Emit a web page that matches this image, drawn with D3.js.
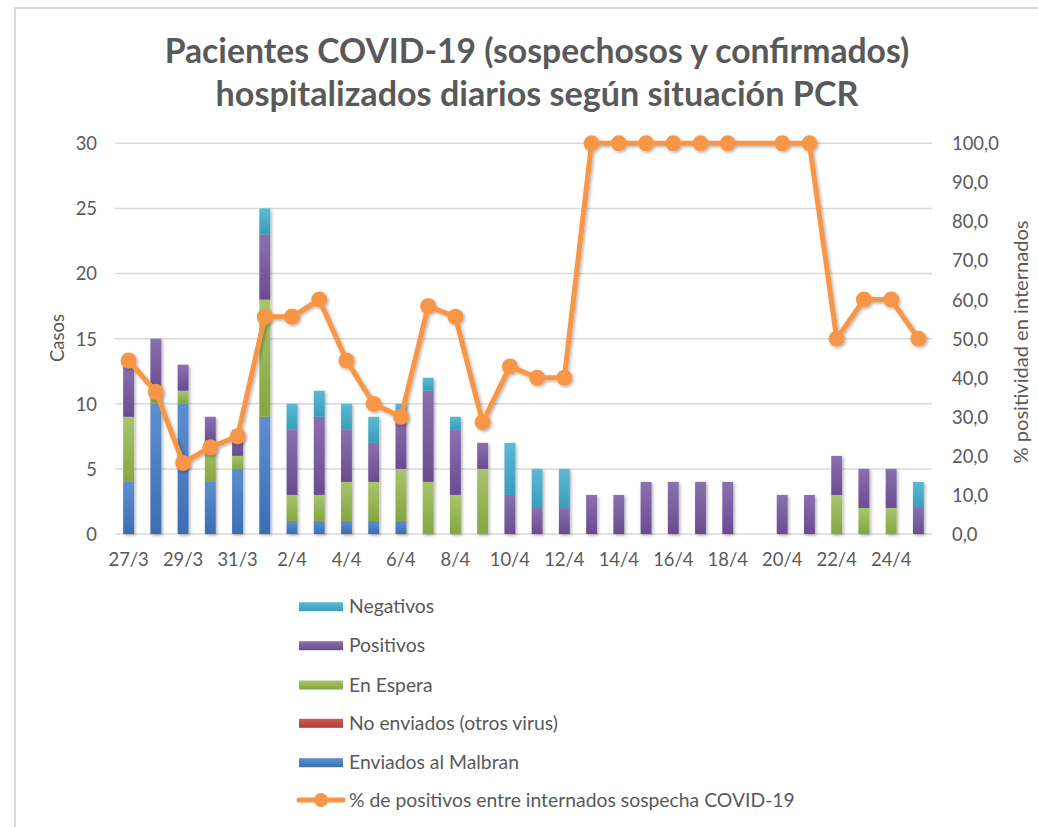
<!DOCTYPE html>
<html><head><meta charset="utf-8">
<script src="https://cdn.jsdelivr.net/npm/d3@7"></script>
<style>
html,body{margin:0;padding:0;background:#fff;}
svg{display:block;}
text{font-family:Lato,"Open Sans",sans-serif;fill:#595959;}
</style></head>
<body>
<svg id="chart" width="1038" height="827"></svg>
<script>
const categories = ["27/3","28/3","29/3","30/3","31/3","1/4","2/4","3/4","4/4","5/4","6/4","7/4","8/4","9/4","10/4","11/4","12/4","13/4","14/4","15/4","16/4","17/4","18/4","19/4","20/4","21/4","22/4","23/4","24/4","25/4"];
const enviadosMalbran = [4,10,10,4,5,9,1,1,1,1,1,0,0,0,0,0,0,0,0,0,0,0,0,0,0,0,0,0,0,0];
const noEnviados      = [0,0,0,0,0,0,0,0,0,0,0,0,0,0,0,0,0,0,0,0,0,0,0,0,0,0,0,0,0,0];
const enEspera        = [5,1,1,3,1,9,2,2,3,3,4,4,3,5,0,0,0,0,0,0,0,0,0,0,0,0,3,2,2,0];
const positivos       = [4,4,2,2,2,5,5,6,4,3,4,7,5,2,3,2,2,3,3,4,4,4,4,0,3,3,3,3,3,2];
const negativos       = [0,0,0,0,0,2,2,2,2,2,1,1,1,0,4,3,3,0,0,0,0,0,0,0,0,0,0,0,0,2];
const pctPositivos    = [44.4,36.4,18.2,22.2,25.0,55.6,55.6,60.0,44.4,33.3,30.0,58.3,55.6,28.6,42.9,40.0,40.0,100,100,100,100,100,100,null,100,100,50,60,60,50];
const leftTicks  = [0,5,10,15,20,25,30];
const rightTicks = [0,10,20,30,40,50,60,70,80,90,100];
const xTickLabels = ["27/3","29/3","31/3","2/4","4/4","6/4","8/4","10/4","12/4","14/4","16/4","18/4","20/4","22/4","24/4"];

const seriesNames = ["Enviados al Malbran","No enviados (otros virus)","En Espera","Positivos","Negativos"];
const seriesData = [enviadosMalbran, noEnviados, enEspera, positivos, negativos];
const seriesColors = {
  "Enviados al Malbran": ["#5d8fd0","#3b6db3"],
  "No enviados (otros virus)": ["#cf5a56","#b03e3b"],
  "En Espera": ["#a8c56e","#85a63f"],
  "Positivos": ["#8b70b0","#6a4c90"],
  "Negativos": ["#5bbad4","#389dbc"]
};
const lineName = "% de positivos entre internados sospecha COVID-19";
const lineColor = "#f79646";

const svg = d3.select("#chart");
const defs = svg.append("defs");
seriesNames.forEach((n,i)=>{
  const g = defs.append("linearGradient").attr("id","g"+i).attr("x1",0).attr("y1",0).attr("x2",0).attr("y2",1);
  g.append("stop").attr("offset","0%").attr("stop-color",seriesColors[n][0]);
  g.append("stop").attr("offset","100%").attr("stop-color",seriesColors[n][1]);
});
const sh = defs.append("filter").attr("id","shadow").attr("x","-50%").attr("y","-50%").attr("width","200%").attr("height","200%");
sh.append("feDropShadow").attr("dx",1.5).attr("dy",1.5).attr("stdDeviation",1.5).attr("flood-color","#000").attr("flood-opacity",0.3);

// border
svg.append("rect").attr("x",15).attr("y",8).attr("width",1040).attr("height",840)
  .attr("fill","none").attr("stroke","#d9d9d9").attr("stroke-width",2);

const plot = {left:115, right:932, top:143.3, bottom:534};
const x = d3.scaleBand().domain(categories).range([plot.left, plot.right]).paddingInner(0.6).paddingOuter(0.3);
const y = d3.scaleLinear().domain([0,30]).range([plot.bottom, plot.top]);
const y2 = d3.scaleLinear().domain([0,100]).range([plot.bottom, plot.top]);

// gridlines
svg.append("g").selectAll("line").data(leftTicks).join("line")
  .attr("x1",plot.left).attr("x2",plot.right)
  .attr("y1",d=>y(d)).attr("y2",d=>y(d))
  .attr("stroke","#d9d9d9").attr("stroke-width",1.5);

// left axis
const yAxis = d3.axisLeft(y).tickValues(leftTicks).tickSize(0).tickPadding(0);
const gy = svg.append("g").attr("transform",`translate(97,0)`).call(yAxis);
gy.select(".domain").remove();
gy.selectAll("text").style("font-size","18.4px").attr("fill","#595959").attr("dy","0.35em");

// right axis
const y2Axis = d3.axisRight(y2).tickValues(rightTicks).tickSize(0).tickPadding(0).tickFormat(d=>d3.format(".1f")(d).replace(".",","));
const gy2 = svg.append("g").attr("transform",`translate(952,0)`).call(y2Axis);
gy2.select(".domain").remove();
gy2.selectAll("text").style("font-size","18.4px").attr("fill","#595959").attr("dy","0.35em");

// x axis
const xAxis = d3.axisBottom(x).tickValues(xTickLabels).tickSize(0).tickPadding(0);
const gx = svg.append("g").attr("transform",`translate(0,553)`).call(xAxis);
gx.select(".domain").remove();
gx.selectAll("text").style("font-size","18.4px").attr("fill","#595959").attr("dy","0.72em");

// stacked bars
const rows = categories.map((c,i)=>{
  const r = {cat:c};
  seriesNames.forEach((n,k)=>r[n]=seriesData[k][i]);
  return r;
});
const stack = d3.stack().keys(seriesNames)(rows);
const barG = svg.append("g").attr("filter","url(#shadow)");
stack.forEach((layer,k)=>{
  barG.append("g").selectAll("rect").data(layer.filter(d=>d[1]-d[0]>0)).join("rect")
    .attr("x",d=>x(d.data.cat)).attr("width",x.bandwidth())
    .attr("y",d=>y(d[1])).attr("height",d=>y(d[0])-y(d[1]))
    .attr("fill",`url(#g${k})`);
});

// line
const pts = categories.map((c,i)=>({c, v:pctPositivos[i]})).filter(d=>d.v!==null);
const lineG = svg.append("g").attr("filter","url(#shadow)");
lineG.append("path").datum(pts)
  .attr("d", d3.line().x(d=>x(d.c)+x.bandwidth()/2).y(d=>y2(d.v)))
  .attr("fill","none").attr("stroke",lineColor).attr("stroke-width",5).attr("stroke-linejoin","round");
lineG.selectAll("circle").data(pts).join("circle")
  .attr("cx",d=>x(d.c)+x.bandwidth()/2).attr("cy",d=>y2(d.v)).attr("r",8)
  .attr("fill",lineColor);

// title
const title = svg.append("g");
const tl = [["Pacientes COVID-19 (sospechosos y confirmados)",63,745],["hospitalizados diarios según situación PCR",106,643]];
tl.forEach(([t,yy,w])=>{
  const el = title.append("text").attr("x",537).attr("y",yy).attr("text-anchor","middle")
    .style("font-weight","bold").style("font-size","28px").text(t);
  const len = el.node().getComputedTextLength();
  el.style("font-size",(28*w/len).toFixed(2)+"px");
});

// axis titles
const ct = svg.append("text").attr("transform","translate(64,338) rotate(-90)").attr("text-anchor","middle")
  .style("font-size","18px").text("Casos");
const cl = ct.node().getComputedTextLength();
ct.style("font-size",(18*48/cl).toFixed(2)+"px");
const rt = svg.append("text").attr("transform","translate(1028,342) rotate(-90)").attr("text-anchor","middle")
  .style("font-size","18px").text("% positividad en internados");
const rl = rt.node().getComputedTextLength();
rt.style("font-size",(18*243/rl).toFixed(2)+"px");

// legend
const legendItems = ["Negativos","Positivos","En Espera","No enviados (otros virus)","Enviados al Malbran"];
const legendY = [606.7,645.7,685,723.3,762.7,800];
const lg = svg.append("g");
legendItems.forEach((n,i)=>{
  const k = seriesNames.indexOf(n);
  lg.append("rect").attr("x",299).attr("y",legendY[i]-4.5).attr("width",44).attr("height",9).attr("fill",`url(#g${k})`);
  lg.append("text").attr("x",349).attr("y",legendY[i]).attr("dy","0.35em").style("font-size","17px").text(n);
});
lg.append("line").attr("x1",299).attr("x2",343).attr("y1",legendY[5]).attr("y2",legendY[5])
  .attr("stroke",lineColor).attr("stroke-width",5).attr("stroke-linecap","round");
lg.append("circle").attr("cx",321).attr("cy",legendY[5]).attr("r",7).attr("fill",lineColor);
const lt = lg.append("text").attr("x",349).attr("y",legendY[5]).attr("dy","0.35em").style("font-size","17px").text(lineName);
const ll = lt.node().getComputedTextLength();
const fs = 17*446/ll;
lg.selectAll("text").style("font-size",fs.toFixed(2)+"px");
</script>
</body></html>
